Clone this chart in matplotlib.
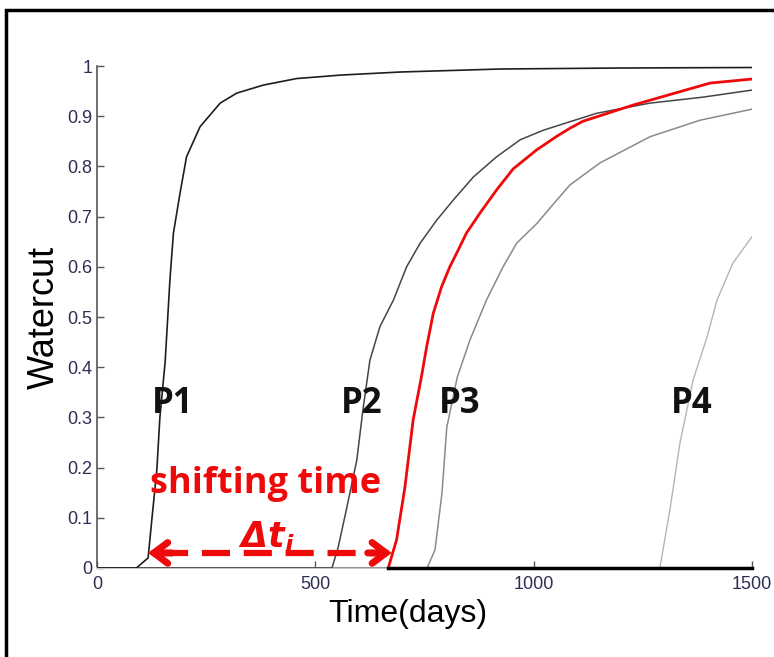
import matplotlib
matplotlib.use("Agg")
import matplotlib.pyplot as plt
from matplotlib.patches import Rectangle

# ---- data ----
t_p1 = [0, 90, 117, 126, 137, 144, 156, 167, 175, 190, 205, 236, 282, 320, 381, 457, 560, 694, 923, 1200, 1500]
w_p1 = [0, 0, 0.02, 0.10, 0.195, 0.30, 0.41, 0.574, 0.667, 0.746, 0.819, 0.879, 0.926, 0.946, 0.962, 0.975, 0.982, 0.988, 0.994, 0.996, 0.997]

t_p2 = [0, 538, 552, 572, 595, 609, 625, 648, 679, 709, 740, 778, 816, 862, 915, 969, 1022, 1083, 1145, 1266, 1388, 1500]
w_p2 = [0, 0, 0.04, 0.12, 0.215, 0.315, 0.414, 0.481, 0.534, 0.600, 0.647, 0.693, 0.733, 0.779, 0.819, 0.853, 0.872, 0.889, 0.906, 0.926, 0.938, 0.952]

t_red = [667, 686, 705, 724, 743, 755, 770, 789, 808, 827, 846, 877, 915, 953, 1007, 1053, 1083, 1113, 1227, 1404, 1500]
w_red = [0, 0.056, 0.16, 0.295, 0.381, 0.441, 0.507, 0.560, 0.600, 0.633, 0.667, 0.707, 0.753, 0.795, 0.833, 0.860, 0.876, 0.890, 0.922, 0.966, 0.974]

t_p3 = [0, 756, 774, 790, 801, 813, 825, 854, 892, 930, 961, 1007, 1053, 1083, 1152, 1266, 1381, 1500]
w_p3 = [0, 0, 0.036, 0.149, 0.28, 0.33, 0.38, 0.454, 0.534, 0.600, 0.647, 0.686, 0.733, 0.763, 0.807, 0.859, 0.892, 0.914]

t_p4 = [0, 1289, 1312, 1335, 1365, 1397, 1420, 1456, 1500]
w_p4 = [0, 0, 0.116, 0.249, 0.374, 0.46, 0.534, 0.607, 0.66]

labels = ["P1", "P2", "P3", "P4"]
label_t = [174, 607, 831, 1362]
label_w = 0.327

shift_start = 117
shift_end = 675
shift_w = 0.03

xticks = [0, 500, 1000, 1500]
yticks = [0, 0.1, 0.2, 0.3, 0.4, 0.5, 0.6, 0.7, 0.8, 0.9, 1]
ytick_labels = ["0", "0.1", "0.2", "0.3", "0.4", "0.5", "0.6", "0.7", "0.8", "0.9", "1"]

RED = "#ee0a0a"

# ---- figure ----
fig = plt.figure(figsize=(7.74, 6.57), dpi=100)
fig.patch.set_facecolor("white")
# outer frame (cropped on right and bottom)
fig.patches.append(Rectangle((6 / 774, -0.1), 1.1, (657 - 10) / 657 + 0.1,
                             transform=fig.transFigure, fill=False,
                             edgecolor="black", linewidth=2.5))

ax = fig.add_axes([97 / 774, (657 - 568) / 657, (752 - 97) / 774, (568 - 66) / 657])
ax.set_xlim(0, 1500)
ax.set_ylim(0, 1)

for s in ["top", "right"]:
    ax.spines[s].set_visible(False)
ax.spines["left"].set_color("#555555")
ax.spines["bottom"].set_color("#c8c8c8")
ax.spines["left"].set_linewidth(1.2)
ax.spines["bottom"].set_linewidth(1.5)

ax.plot(t_p4, w_p4, color="#b5b5b5", lw=1.0, zorder=3)
ax.plot(t_p3, w_p3, color="#8a8a8a", lw=1.1, zorder=3)
ax.plot(t_p2, w_p2, color="#454545", lw=1.1, zorder=3)
ax.plot(t_p1, w_p1, color="#1e1e1e", lw=1.2, zorder=3)
ax.plot(t_red, w_red, color=RED, lw=2.0, zorder=4)
# dark baseline from red onset
ax.plot([t_red[0], 1500], [0, 0], color="black", lw=2.5, zorder=5, clip_on=False)

ax.set_xticks(xticks)
ax.set_yticks(yticks)
ax.set_yticklabels(ytick_labels)
ax.tick_params(direction="in", length=5, width=1, colors="#555555",
               labelcolor="#2e2e55", labelsize=13)
ax.tick_params(axis="x", pad=6)
for lbl in ax.get_xticklabels() + ax.get_yticklabels():
    lbl.set_family("Liberation Sans")

ax.set_xlabel("Time(days)", fontsize=23, family="Liberation Sans")
ax.xaxis.set_label_coords(0.475, -0.062)
ax.set_ylabel("Watercut", fontsize=26, family="Liberation Sans", labelpad=4)

for lab, tx in zip(labels, label_t):
    ax.text(tx, label_w, lab, fontsize=25, fontweight="bold", family="Open Sans",
            ha="center", va="center", color="#111111", zorder=5)

ax.text(387, 0.167, "shifting time", fontsize=26, fontweight="bold",
        family="Open Sans", color=RED, ha="center", va="center", zorder=6)
ax.text(387, 0.062, r"$\mathbfit{\Delta t}_{\mathbfit{i}}$", fontsize=25,
        color=RED, ha="center", va="center", zorder=6)

# dashed shaft
head_len = 55
ax.plot([shift_start + head_len * 0.5, shift_end - head_len * 0.5], [shift_w, shift_w],
        color=RED, lw=4.5, linestyle=(0, (4.5, 2.2)), dash_capstyle="butt", zorder=6)
# solid heads
for tip, direction in [(shift_start, 1), (shift_end, -1)]:
    ax.annotate("", xy=(tip, shift_w), xytext=(tip + direction * head_len, shift_w),
                arrowprops=dict(arrowstyle="->,head_length=1.0,head_width=0.75",
                                color=RED, lw=5, shrinkA=0, shrinkB=0,
                                joinstyle="miter"), zorder=6)

fig.savefig("out.png", dpi=100)
